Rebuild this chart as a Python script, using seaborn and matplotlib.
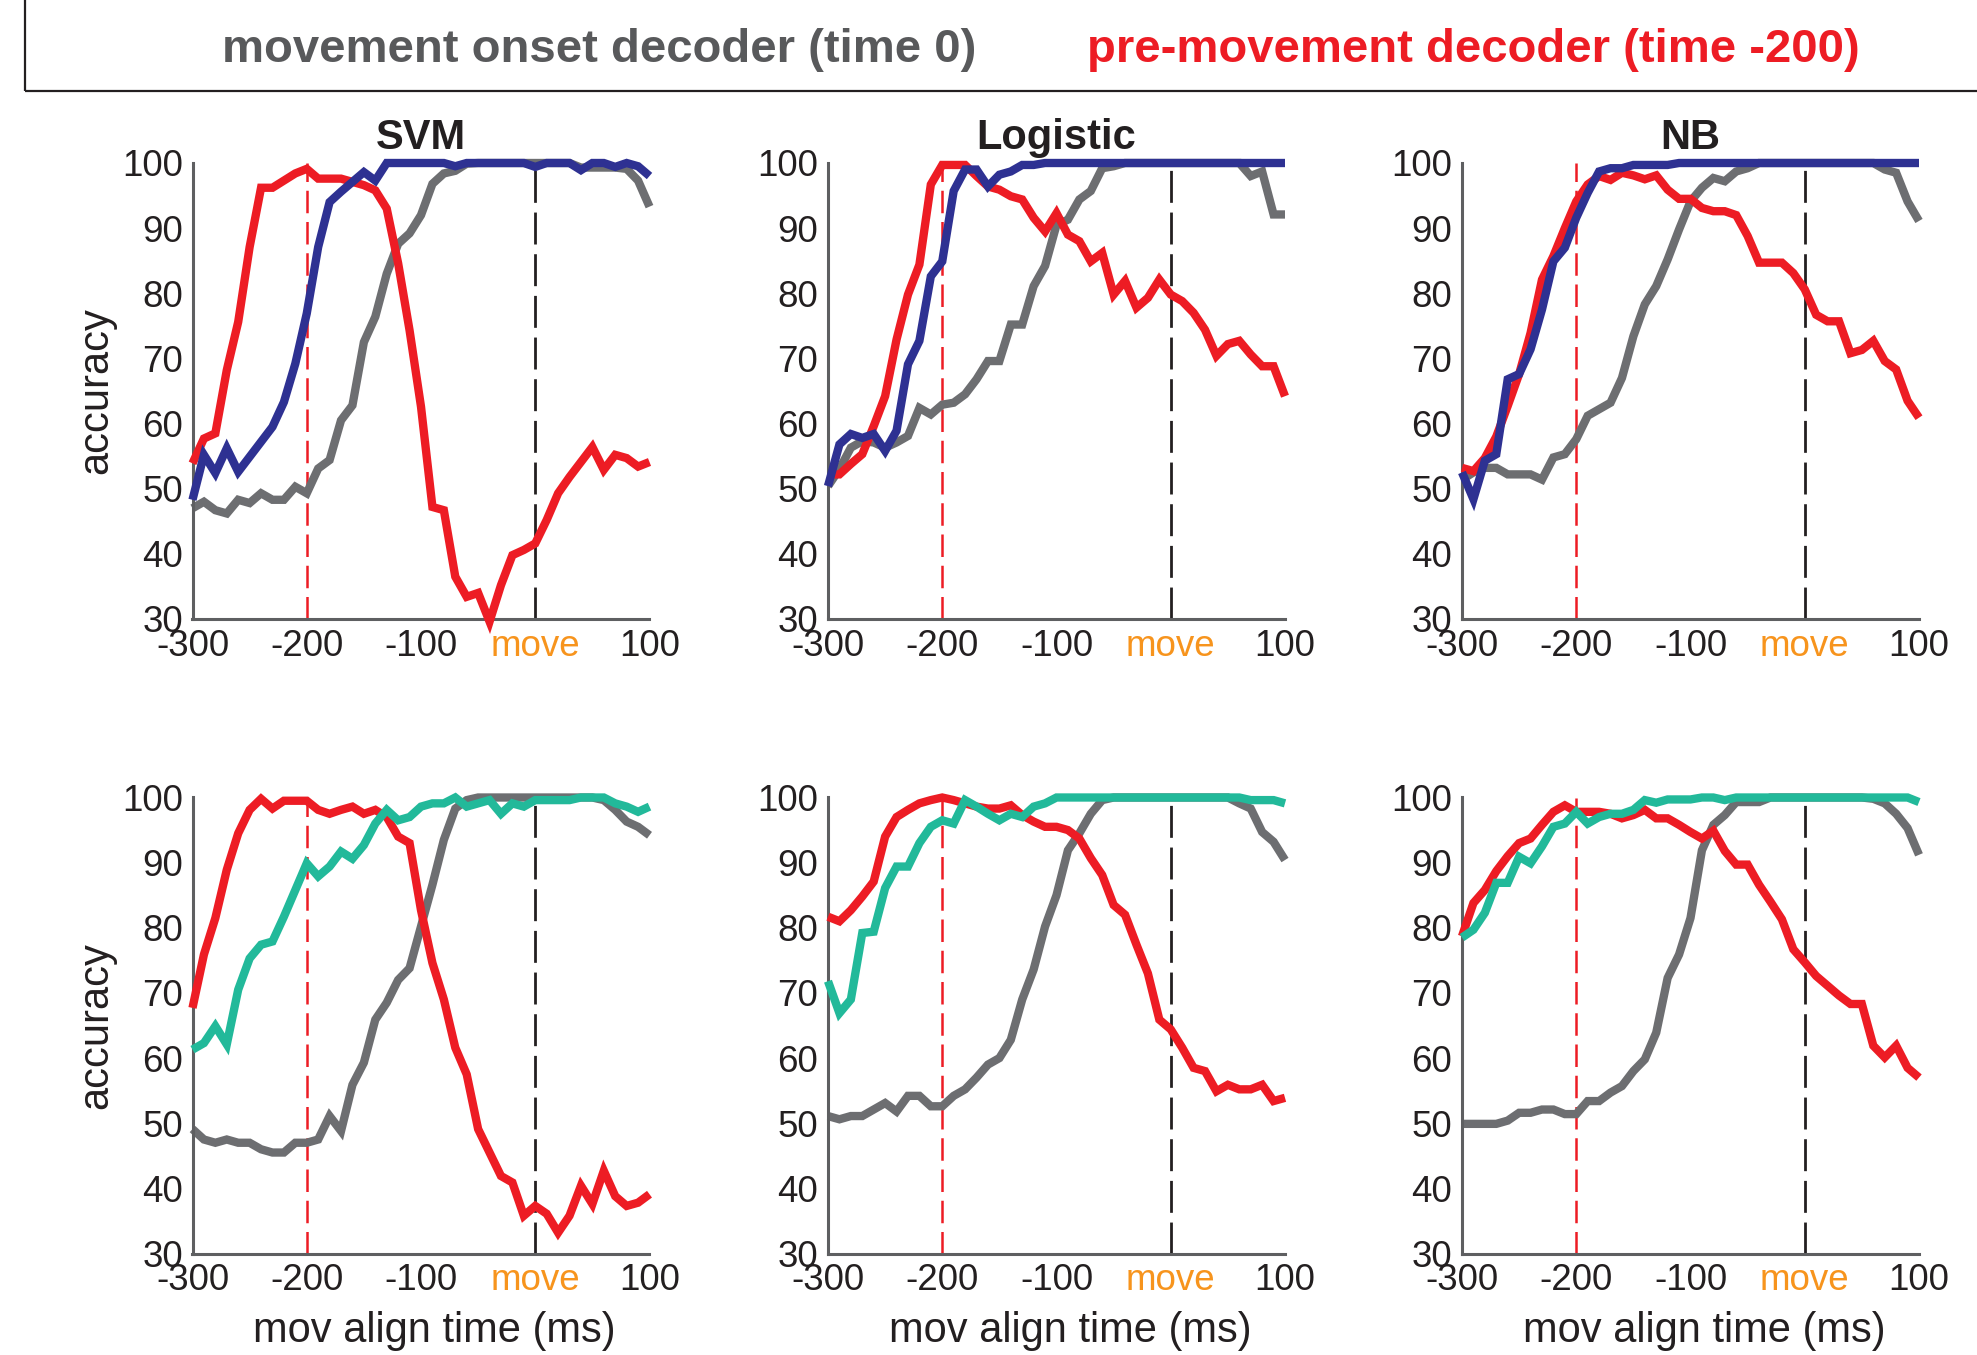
import numpy as np
import pandas as pd
import matplotlib
matplotlib.use("Agg")
import matplotlib.pyplot as plt
from matplotlib.patches import Rectangle
import seaborn as sns

# ---------------- data ----------------
time_ms = list(range(-300, 101, 10))

svm_top_gray = [47.0, 48.0, 46.7, 46.2, 48.3, 47.8, 49.3, 48.3, 48.3, 50.3, 49.3, 53.1, 54.4, 60.5, 62.8, 72.5,
                76.4, 83.0, 87.6, 89.2, 92.0, 96.8, 98.4, 98.8, 99.9, 100, 100, 100, 100, 100, 100, 100, 100, 100,
                99.3, 99.3, 99.3, 99.3, 99.1, 97.3, 93.3]
svm_top_red = [53.9, 57.7, 58.5, 68.2, 75.6, 87.1, 96.2, 96.2, 97.3, 98.4, 99.1, 97.6, 97.6, 97.6, 97.1, 96.6,
               95.8, 93.0, 84.6, 74.3, 62.6, 47.2, 46.7, 36.5, 33.4, 34.0, 29.6, 35.2, 39.8, 40.6, 41.6, 45.2,
               49.3, 51.8, 54.1, 56.4, 52.9, 55.2, 54.7, 53.4, 54.1]
svm_top_blue = [48.3, 55.2, 52.4, 56.2, 52.6, 54.9, 57.2, 59.5, 63.3, 69.2, 76.9, 87.1, 94.0, 95.6, 97.1, 98.6,
                97.3, 100, 100, 100, 100, 100, 100, 99.5, 100, 100, 100, 100, 100, 100, 99.4, 100, 100, 100,
                98.9, 100, 100, 99.4, 100, 99.5, 98.0]

log_top_gray = [50.4, 53.0, 56.3, 57.3, 57.1, 56.3, 57.1, 58.1, 62.4, 61.4, 62.9, 63.2, 64.5, 66.8, 69.6, 69.6,
                75.2, 75.2, 81.1, 84.2, 90.5, 91.3, 94.4, 95.7, 99.2, 99.5, 100, 100, 100, 100, 100, 100, 100,
                100, 100, 100, 100, 98.0, 98.7, 92.1, 92.1]
log_top_red = [52.2, 52.2, 53.8, 55.3, 59.6, 64.2, 72.9, 79.8, 84.4, 96.7, 99.7, 99.7, 99.7, 98.0, 96.4, 95.9,
               94.9, 94.4, 91.6, 89.5, 92.3, 89.0, 88.0, 84.9, 86.2, 79.8, 81.9, 77.8, 79.3, 82.1, 79.8, 78.8,
               77.0, 74.4, 70.4, 72.2, 72.7, 70.6, 68.8, 68.8, 64.2]
log_top_blue = [50.4, 56.8, 58.4, 57.8, 58.4, 55.8, 58.9, 69.1, 72.7, 82.6, 84.9, 95.7, 99.0, 99.0, 96.4, 98.2,
                98.7, 99.7, 99.7, 100, 100, 100, 100, 100, 100, 100, 100, 100, 100, 100, 100, 100, 100, 100,
                100, 100, 100, 100, 100, 100, 100]

nb_top_gray = [51.4, 52.5, 53.2, 53.2, 52.2, 52.2, 52.2, 51.4, 54.8, 55.3, 57.6, 61.2, 62.2, 63.2, 67.0, 73.4,
               78.3, 81.1, 85.2, 89.8, 94.1, 96.2, 97.7, 97.2, 98.7, 99.2, 100, 100, 100, 100, 100, 100, 100,
               100, 100, 100, 100, 99.0, 98.5, 94.1, 91.1]
nb_top_red = [53.2, 52.7, 54.7, 58.0, 62.7, 67.6, 73.9, 82.1, 85.7, 90.0, 94.1, 96.7, 98.0, 97.4, 98.5, 98.1,
              97.5, 98.1, 95.9, 94.5, 94.5, 93.1, 92.6, 92.6, 92.0, 88.8, 84.7, 84.7, 84.7, 83.1, 80.6, 76.7,
              75.7, 75.7, 70.8, 71.3, 72.7, 69.6, 68.3, 63.5, 60.9]
nb_top_blue = [52.5, 48.4, 54.3, 55.3, 66.8, 67.6, 71.4, 77.5, 84.9, 87.0, 91.6, 95.4, 98.7, 99.2, 99.2, 99.7,
               99.7, 99.7, 99.7, 100, 100, 100, 100, 100, 100, 100, 100, 100, 100, 100, 100, 100, 100, 100,
               100, 100, 100, 100, 100, 100, 100]

svm_bot_gray = [49.1, 47.5, 47.0, 47.5, 47.0, 47.0, 46.0, 45.5, 45.5, 47.0, 47.0, 47.5, 51.1, 48.8, 55.9, 59.3,
                65.9, 68.5, 72.0, 73.8, 80.2, 86.6, 93.5, 98.3, 99.6, 100, 100, 100, 100, 100, 100, 100, 100,
                100, 100, 100, 99.6, 98.1, 96.3, 95.5, 94.2]
svm_bot_red = [67.7, 75.9, 81.5, 88.9, 94.5, 98.1, 99.8, 98.3, 99.5, 99.5, 99.5, 98.1, 97.5, 98.1, 98.6, 97.5,
               98.1, 97.0, 94.0, 93.0, 82.7, 74.6, 69.0, 61.6, 57.5, 49.1, 45.5, 41.9, 40.9, 35.8, 37.3, 36.1,
               33.2, 35.8, 40.4, 37.6, 42.7, 38.8, 37.3, 37.8, 39.1]
svm_bot_teal = [61.3, 62.3, 64.9, 62.1, 70.5, 75.3, 77.4, 77.9, 81.7, 85.8, 89.9, 87.9, 89.4, 91.7, 90.6, 92.7,
                96.0, 98.1, 96.5, 97.0, 98.6, 99.1, 99.1, 100, 98.6, 99.1, 99.6, 97.5, 99.1, 98.6, 99.6, 99.6,
                99.6, 99.6, 100, 100, 100, 99.1, 98.6, 97.8, 98.6]

log_bot_gray = [51.1, 50.6, 51.1, 51.1, 52.1, 53.1, 51.8, 54.2, 54.2, 52.6, 52.6, 54.2, 55.2, 57.0, 59.0, 60.0,
                62.8, 69.0, 73.6, 80.2, 85.0, 91.9, 94.5, 97.5, 99.6, 100, 100, 100, 100, 100, 100, 100, 100,
                100, 100, 100, 99.1, 98.3, 94.7, 93.2, 90.4]
log_bot_red = [81.7, 81.0, 82.7, 84.8, 87.1, 94.0, 97.0, 98.1, 99.1, 99.6, 100, 99.6, 99.1, 98.6, 98.3, 98.3,
               98.8, 97.3, 96.3, 95.5, 95.5, 95.0, 93.7, 90.7, 88.1, 83.5, 82.0, 77.4, 73.0, 65.9, 64.4, 61.6,
               58.5, 58.0, 54.9, 55.9, 55.2, 55.2, 55.9, 53.4, 53.9]
log_bot_teal = [71.8, 66.9, 69.0, 79.2, 79.4, 86.1, 89.4, 89.4, 93.0, 95.5, 96.5, 96.0, 99.6, 98.6, 97.5, 96.5,
                97.5, 97.0, 98.6, 99.1, 100, 100, 100, 100, 100, 100, 100, 100, 100, 100, 100, 100, 100, 100,
                100, 100, 100, 99.6, 99.6, 99.6, 99.1]

nb_bot_gray = [49.9, 49.9, 49.9, 49.9, 50.4, 51.6, 51.6, 52.1, 52.1, 51.4, 51.4, 53.4, 53.4, 54.7, 55.7, 58.0,
               59.8, 63.9, 72.3, 75.9, 81.5, 91.9, 95.8, 97.3, 99.3, 99.3, 99.3, 100, 100, 100, 100, 100, 100,
               100, 100, 100, 99.8, 99.1, 97.5, 95.3, 91.2]
nb_bot_red = [78.7, 83.8, 85.8, 88.7, 91.0, 93.0, 93.7, 95.8, 97.8, 98.8, 97.8, 97.8, 97.8, 97.5, 96.8, 97.3,
              98.1, 96.8, 96.8, 95.8, 94.7, 93.7, 94.9, 91.8, 89.7, 89.7, 86.6, 84.0, 81.3, 76.7, 74.7, 72.6,
              71.1, 69.6, 68.3, 68.3, 61.9, 60.1, 61.9, 58.5, 57.0]
nb_bot_teal = [78.5, 79.7, 82.3, 86.9, 86.9, 90.9, 89.9, 92.5, 95.5, 96.0, 97.8, 96.0, 97.0, 97.5, 97.5, 98.1,
               99.6, 99.2, 99.7, 99.7, 99.7, 100, 100, 99.6, 100, 100, 100, 100, 100, 100, 100, 100, 100, 100,
               100, 100, 100, 100, 100, 100, 99.3]

titles = ["SVM", "Logistic", "NB"]
x_ticks = [-300, -200, -100, 0, 100]
x_tick_labels = ["-300", "-200", "-100", "move", "100"]
y_ticks = [30, 40, 50, 60, 70, 80, 90, 100]
legend_labels = ["movement onset decoder (time 0)", "pre-movement decoder (time -200)"]

panels = [
    [(svm_top_gray, svm_top_red, svm_top_blue), (log_top_gray, log_top_red, log_top_blue),
     (nb_top_gray, nb_top_red, nb_top_blue)],
    [(svm_bot_gray, svm_bot_red, svm_bot_teal), (log_bot_gray, log_bot_red, log_bot_teal),
     (nb_bot_gray, nb_bot_red, nb_bot_teal)],
]

# ---------------- style ----------------
GRAY = "#6D6E71"
RED = "#ED1C24"
BLUE = "#2E3192"
TEAL = "#22B99A"
ORANGE = "#F7941D"
INK = "#231F20"
SPINE = "#5E5F61"

sns.set_style("white")
plt.rcParams["font.family"] = ["Liberation Sans", "DejaVu Sans"]

W, H = 1977, 1355
fig = plt.figure(figsize=(W / 100, H / 100), dpi=100)
fig.patch.set_facecolor("white")

lefts = [192.5, 828, 1462]
tops = [163, 797.5]
ax_w, ax_h = 457, 456

for r in range(2):
    third_color = BLUE if r == 0 else TEAL
    for c in range(3):
        ax = fig.add_axes([lefts[c] / W, 1 - (tops[r] + ax_h) / H, ax_w / W, ax_h / H])
        gray_v, red_v, third_v = panels[r][c]
        df = pd.DataFrame({"t": time_ms, "gray": gray_v, "red": red_v, "third": third_v})
        # dashed markers
        ax.axvline(-200, color=RED, lw=1.8, dashes=(9, 3.5), zorder=1)
        ax.axvline(0, color=INK, lw=2.0, dashes=(11.5, 3.5), zorder=1)
        for col, colr, z in [("gray", GRAY, 2), ("red", RED, 3), ("third", third_color, 4)]:
            sns.lineplot(data=df, x="t", y=col, ax=ax, color=colr, lw=6, sort=False,
                         clip_on=False, zorder=z, solid_joinstyle="miter", solid_capstyle="butt")
        ax.set_xlim(-300, 100)
        ax.set_ylim(30, 100)
        ax.set_xticks(x_ticks)
        ax.set_xticklabels(x_tick_labels)
        ax.set_yticks(y_ticks)
        ax.tick_params(axis="both", direction="in", length=5, width=1.5, color=SPINE,
                       labelsize=26.5, labelcolor=INK)
        ax.tick_params(axis="x", pad=7)
        ax.tick_params(axis="y", pad=7)
        for lab in ax.get_xticklabels():
            if lab.get_text() == "move":
                lab.set_color(ORANGE)
        for s in ["top", "right"]:
            ax.spines[s].set_visible(False)
        for s in ["left", "bottom"]:
            ax.spines[s].set_color(SPINE)
            ax.spines[s].set_linewidth(2.2)
        ax.set_facecolor("none")
        if c == 0:
            ax.set_ylabel("accuracy", fontsize=30, color=INK)
            ax.yaxis.set_label_coords(-0.167, 0.5)
        else:
            ax.set_ylabel("")
        if r == 1:
            ax.set_xlabel("mov align time (ms)", fontsize=30, color=INK)
            ax.xaxis.set_label_coords(0.53, -0.127)
        else:
            ax.set_xlabel("")
        if r == 0:
            ax.set_title(titles[c], fontsize=30, fontweight="bold", color=INK, pad=10)

# legend header box
fig.add_artist(Rectangle((25 / W, 1 - 91 / H), 1.2, 0.2, transform=fig.transFigure,
                         fill=False, lw=1.6, ec=INK, clip_on=False))
fig.text(599 / W, 1 - 50 / H, legend_labels[0], fontsize=34, fontweight="bold",
         color="#58595B", ha="center", va="center")
fig.text(1473 / W, 1 - 50 / H, legend_labels[1], fontsize=34, fontweight="bold",
         color=RED, ha="center", va="center")

fig.savefig("out.png", dpi=100, facecolor="white")
